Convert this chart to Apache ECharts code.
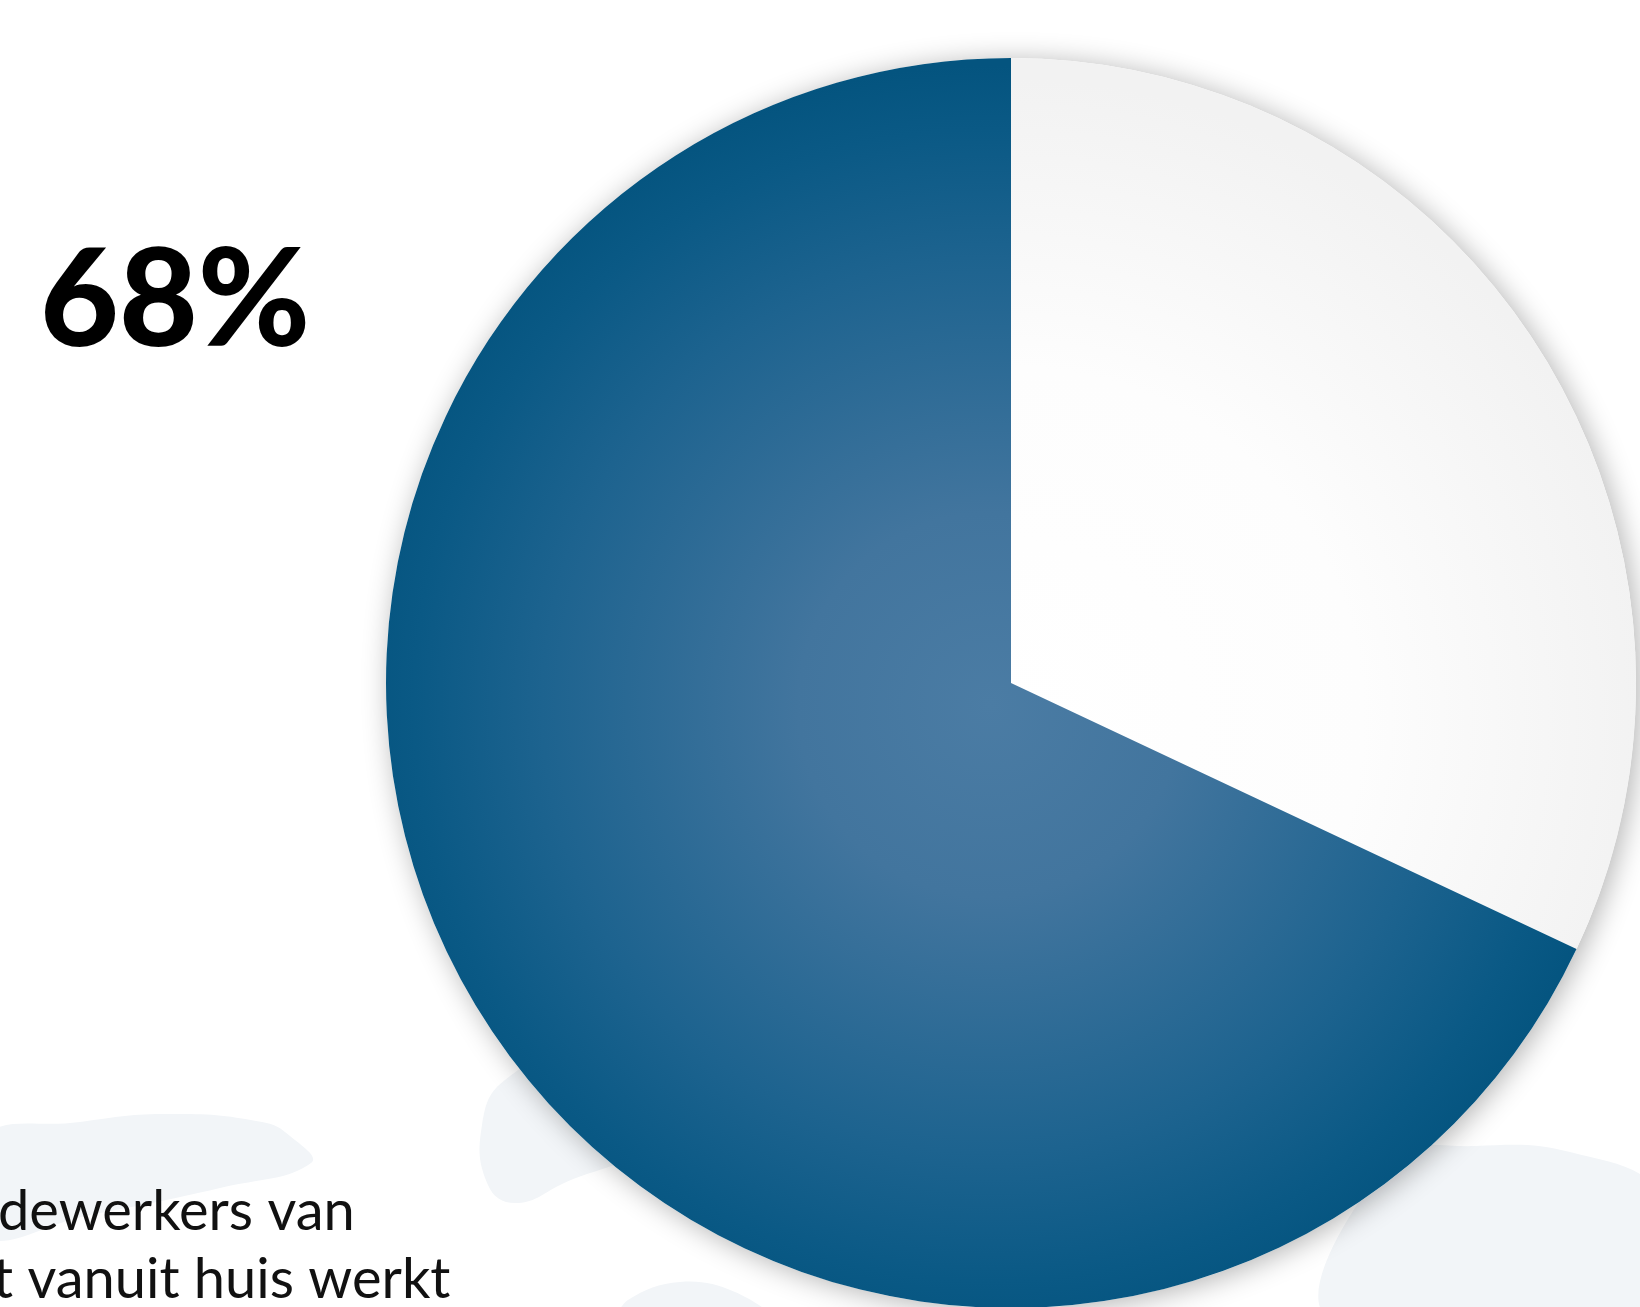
<!DOCTYPE html>
<html>
<head>
<meta charset="utf-8">
<script src="https://cdn.jsdelivr.net/npm/echarts@6/dist/echarts.min.js"></script>
<style>
html,body{margin:0;padding:0;background:#ffffff;}
#chart{width:1640px;height:1307px;}
</style>
</head>
<body>
<div id="chart"></div>
<script>
// Data
var categories = ['Niet vanuit huis', 'Vanuit huis'];
var values = [32, 68];
var bigLabel = '68%';
var captionLines = ['dewerkers van', 't vanuit huis werkt'];

var total = values.reduce(function(a,b){return a+b;},0);
var chart = echarts.init(document.getElementById('chart'), null, {renderer:'canvas'});

var blobColor = '#f2f5f8';
var option = {
  backgroundColor: '#ffffff',
  animation: false,
  graphic: [
    {type:'polygon', z:-10, silent:true, shape:{smooth:0.45, points:[[-20,1140],[80,1122],[170,1114],[262,1122],[290,1136],[311,1163],[220,1188],[90,1215],[-20,1235]]}, style:{fill:blobColor}},
    {type:'polygon', z:-10, silent:true, shape:{smooth:0.45, points:[[570,1058],[505,1080],[482,1125],[488,1185],[515,1203],[560,1185],[640,1140]]}, style:{fill:blobColor}},
    {type:'polygon', z:-10, silent:true, shape:{smooth:0.4, points:[[628,1300],[680,1282],[735,1292],[770,1320],[620,1320]]}, style:{fill:blobColor}},
    {type:'polygon', z:-10, silent:true, shape:{smooth:0.4, points:[[1390,1160],[1475,1146],[1570,1152],[1660,1195],[1660,1320],[1330,1320]]}, style:{fill:blobColor}},
    {type:'text', z:100, x:40, y:302, style:{text:bigLabel, font:'900 136px Lato', fill:'#000000', textAlign:'left', verticalAlign:'middle', lineHeight:136}},
    {type:'text', z:100, x:-2, y:1212, style:{text:captionLines[0], font:'400 56px Lato', fill:'#111111', textAlign:'left', verticalAlign:'middle', lineHeight:56}},
    {type:'text', z:100, x:-7, y:1280, style:{text:captionLines[1], font:'400 56px Lato', fill:'#111111', textAlign:'left', verticalAlign:'middle', lineHeight:56}}
  ],
  series: [
    {
      type:'pie', z:1, silent:true, center:[1011,683], radius:[0,625],
      label:{show:false}, labelLine:{show:false},
      data:[{name:'base', value: total}],
      itemStyle:{color:'#ffffff', shadowBlur:28, shadowColor:'rgba(0,0,0,0.3)', shadowOffsetX:4, shadowOffsetY:3}
    },
    {
      type:'pie', z:2, center:[1011,683], radius:[0,625], startAngle:90, clockwise:true,
      label:{show:false}, labelLine:{show:false},
      emphasis:{disabled:true},
      data:[
        {name:categories[0], value:values[0], itemStyle:{color:{type:'radial', x:1011, y:719, r:640, global:true, colorStops:[{offset:0,color:'#ffffff'},{offset:0.55,color:'#fdfdfd'},{offset:1,color:'#f2f2f2'}]}}},
        {name:categories[1], value:values[1], itemStyle:{color:{type:'radial', x:990, y:705, r:640, global:true, colorStops:[{offset:0,color:'#4b7ca4'},{offset:0.3,color:'#42759e'},{offset:0.7,color:'#1d638f'},{offset:0.9,color:'#0a5985'},{offset:1,color:'#04547f'}]}}}
      ]
    }
  ]
};
chart.setOption(option);
</script>
</body>
</html>
